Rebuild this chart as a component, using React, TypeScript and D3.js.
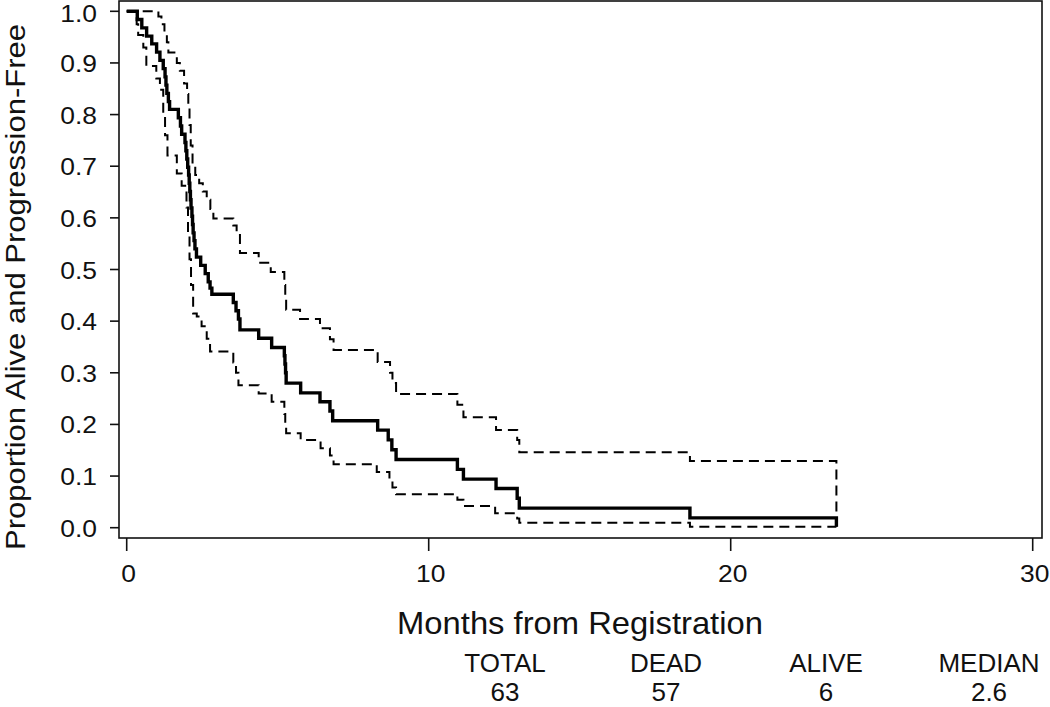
import React from "react";
import * as d3 from "d3";

// Kaplan-Meier estimate (step-after): time in months, proportion
const kmTimes = [0, 0.35, 0.5, 0.66, 0.83, 0.99, 1.1, 1.21, 1.27, 1.3, 1.33, 1.38, 1.42, 1.71, 1.78, 1.82, 1.93, 1.96, 1.99, 2.02, 2.05, 2.07, 2.09, 2.11, 2.13, 2.16, 2.18, 2.2, 2.23, 2.26, 2.31, 2.45, 2.6, 2.7, 2.76, 2.82, 3.53, 3.62, 3.7, 3.75, 4.37, 4.8, 5.22, 5.24, 5.26, 5.28, 5.76, 6.4, 6.73, 6.82, 8.31, 8.66, 8.78, 8.92, 10.95, 11.15, 12.23, 12.93, 13.0, 18.65];
const kmSurv = [1.0, 0.984, 0.968, 0.952, 0.937, 0.921, 0.905, 0.889, 0.873, 0.857, 0.841, 0.825, 0.81, 0.794, 0.778, 0.762, 0.746, 0.73, 0.714, 0.698, 0.683, 0.667, 0.651, 0.635, 0.619, 0.603, 0.587, 0.571, 0.556, 0.54, 0.524, 0.508, 0.492, 0.476, 0.464, 0.452, 0.436, 0.42, 0.404, 0.383, 0.367, 0.349, 0.333, 0.317, 0.3, 0.28, 0.261, 0.244, 0.226, 0.207, 0.189, 0.17, 0.151, 0.132, 0.113, 0.094, 0.076, 0.057, 0.038, 0.019];

// Upper 95% confidence limit
const upperTimes = [0, 1.05, 1.15, 1.25, 1.33, 1.38, 1.66, 1.76, 1.9, 2.0, 2.04, 2.08, 2.12, 2.18, 2.27, 2.4, 2.52, 2.65, 2.77, 2.87, 3.53, 3.64, 3.75, 4.37, 4.77, 5.22, 5.25, 5.28, 5.74, 6.4, 6.73, 6.85, 8.31, 8.72, 8.8, 8.92, 10.95, 11.15, 12.23, 12.93, 13.0, 18.65];
const upperSurv = [1.0, 0.99, 0.975, 0.955, 0.94, 0.92, 0.9, 0.885, 0.86, 0.84, 0.82, 0.78, 0.74, 0.7, 0.683, 0.667, 0.651, 0.635, 0.617, 0.599, 0.585, 0.57, 0.532, 0.513, 0.495, 0.47, 0.445, 0.422, 0.404, 0.386, 0.365, 0.344, 0.321, 0.3, 0.28, 0.259, 0.238, 0.214, 0.189, 0.17, 0.146, 0.129];

// Lower 95% confidence limit
const lowerTimes = [0, 0.33, 0.38, 0.55, 0.65, 0.98, 1.1, 1.21, 1.27, 1.35, 1.66, 1.82, 1.98, 2.03, 2.08, 2.13, 2.2, 2.32, 2.48, 2.65, 2.76, 3.53, 3.62, 3.7, 4.37, 4.8, 5.22, 5.25, 5.28, 5.76, 6.42, 6.73, 6.85, 8.28, 8.7, 8.8, 8.92, 10.95, 11.15, 12.2, 12.93, 13.0, 18.65];
const lowerSurv = [1.0, 0.975, 0.954, 0.93, 0.894, 0.87, 0.848, 0.8, 0.76, 0.721, 0.686, 0.662, 0.62, 0.57, 0.52, 0.47, 0.415, 0.409, 0.39, 0.366, 0.341, 0.32, 0.3, 0.276, 0.26, 0.244, 0.22, 0.2, 0.183, 0.17, 0.154, 0.14, 0.123, 0.108, 0.09, 0.078, 0.065, 0.054, 0.042, 0.028, 0.018, 0.0097, 0.002];

const lastFollowUp = 23.5;

const xTicks = [0, 10, 20, 30];
const yTicks = [0, 0.1, 0.2, 0.3, 0.4, 0.5, 0.6, 0.7, 0.8, 0.9, 1.0];

const tableHeaders = ["TOTAL", "DEAD", "ALIVE", "MEDIAN"];
const tableValues = ["63", "57", "6", "2.6"];
const tableCenters = [505, 666, 826, 989];

const xTitle = "Months from Registration";
const yTitle = "Proportion Alive and Progression-Free";

const FONT = "'Liberation Sans', Arial, Helvetica, sans-serif";

export default function App() {
  const W = 1050;
  const H = 707;
  const x = d3.scaleLinear().domain([0, 30]).range([126.7, 1032.7]);
  const y = d3.scaleLinear().domain([0, 1]).range([527.7, 11.3]);
  const box = { left: 119, right: 1042, top: 1, bottom: 538 };

  const line = d3
    .line<[number, number]>()
    .x((d) => x(d[0]))
    .y((d) => y(d[1]))
    .curve(d3.curveStepAfter);

  const build = (ts: number[], ss: number[]): [number, number][] => {
    const pts: [number, number][] = ts.map((t, i) => [t, ss[i]]);
    pts.push([lastFollowUp, ss[ss.length - 1]]);
    return pts;
  };

  const lowerEnd = lowerSurv[lowerSurv.length - 1];
  const kmPts = build(kmTimes, kmSurv);
  const upPts = build(upperTimes, upperSurv);
  const loPts = build(lowerTimes, lowerSurv);

  const kmPath = line(kmPts) + `L${x(lastFollowUp)},${y(lowerEnd)}`;
  const upPath = line(upPts) + `L${x(lastFollowUp)},${y(lowerEnd)}`;
  const loPath = line(loPts);

  return (
    <svg
      width={W}
      height={H}
      style={{ position: "absolute", left: 0, top: 0, background: "#fff" }}
      fontFamily={FONT}
    >
      <rect x={0} y={0} width={W} height={H} fill="#fff" />
      <rect
        x={box.left}
        y={box.top}
        width={box.right - box.left}
        height={box.bottom - box.top}
        fill="none"
        stroke="#111"
        strokeWidth={1.6}
      />
      {yTicks.map((t) => (
        <g key={"y" + t}>
          <line x1={110} x2={box.left} y1={y(t)} y2={y(t)} stroke="#111" strokeWidth={1.6} />
          <text
            transform={`translate(97,${Math.max(y(t) + 9, 22)}) scale(1.1,1)`}
            fontSize={24}
            textAnchor="end"
            fill="#111"
          >
            {t.toFixed(1)}
          </text>
        </g>
      ))}
      {xTicks.map((t) => (
        <g key={"x" + t}>
          <line x1={x(t)} x2={x(t)} y1={box.bottom} y2={551} stroke="#111" strokeWidth={1.6} />
          <text
            transform={`translate(${x(t) + 2},582) scale(1.1,1)`}
            fontSize={24}
            textAnchor="middle"
            fill="#111"
          >
            {t}
          </text>
        </g>
      ))}
      <path d={loPath || ""} fill="none" stroke="#000" strokeWidth={2} strokeDasharray="10,6" />
      <path d={upPath} fill="none" stroke="#000" strokeWidth={2} strokeDasharray="10,6" />
      <path d={kmPath} fill="none" stroke="#000" strokeWidth={3.4} />

      <text
        transform="translate(580,634) scale(1.04,1)"
        fontSize={31.5}
        textAnchor="middle"
        fill="#111"
      >
        {xTitle}
      </text>
      <text
        transform="translate(24.5,287) rotate(-90) scale(1.15,1)"
        fontSize={27}
        textAnchor="middle"
        fill="#111"
      >
        {yTitle}
      </text>
      {tableHeaders.map((h, i) => (
        <text key={h} x={tableCenters[i]} y={672} fontSize={26} textAnchor="middle" fill="#111">
          {h}
        </text>
      ))}
      {tableValues.map((v, i) => (
        <text key={"v" + i} x={tableCenters[i]} y={701} fontSize={26} textAnchor="middle" fill="#111">
          {v}
        </text>
      ))}
    </svg>
  );
}
